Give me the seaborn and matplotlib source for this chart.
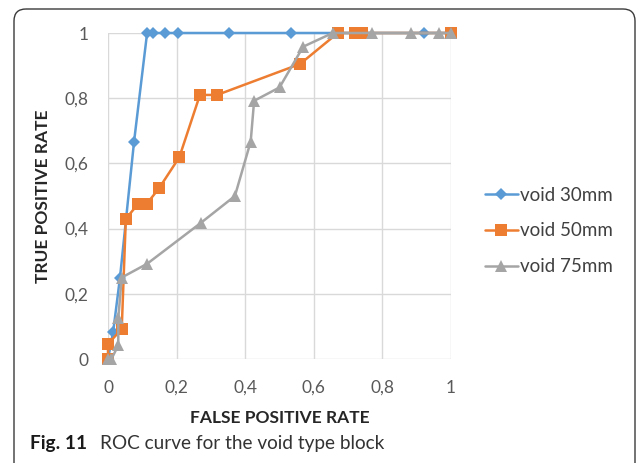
import matplotlib
matplotlib.use("Agg")
import matplotlib.pyplot as plt
from matplotlib.patches import FancyBboxPatch
import seaborn as sns
import pandas as pd

# ---- data ----
series_names = ["void 30mm", "void 50mm", "void 75mm"]
blue_x = [0, 0.015, 0.035, 0.076, 0.114, 0.131, 0.166, 0.204, 0.353, 0.534, 0.921, 1.0]
blue_y = [0, 0.083, 0.25, 0.667, 1, 1, 1, 1, 1, 1, 1, 1]
orange_x = [0, 0, 0.04, 0.052, 0.088, 0.113, 0.149, 0.208, 0.268, 0.318, 0.56, 0.67, 0.72, 0.74, 1.0]
orange_y = [0, 0.046, 0.092, 0.43, 0.476, 0.476, 0.524, 0.619, 0.81, 0.81, 0.905, 1, 1, 1, 1]
gray_x = [0, 0.01, 0.03, 0.03, 0.04, 0.114, 0.27, 0.37, 0.416, 0.426, 0.5, 0.569, 0.655, 0.77, 0.884, 0.965, 1.0]
gray_y = [0, 0, 0.042, 0.125, 0.25, 0.292, 0.417, 0.5, 0.667, 0.792, 0.833, 0.958, 1, 1, 1, 1, 1]
tick_values = [0, 0.2, 0.4, 0.6, 0.8, 1.0]
tick_labels = ["0", "0,2", "0,4", "0,6", "0,8", "1"]
x_title = "FALSE POSITIVE RATE"
y_title = "TRUE POSITIVE RATE"
caption_bold = "Fig. 11"
caption_text = "ROC curve for the void type block"

rows = []
for name, xs, ys in zip(series_names, [blue_x, orange_x, gray_x], [blue_y, orange_y, gray_y]):
    for i, (x, y) in enumerate(zip(xs, ys)):
        rows.append({"series": name, "order": i, "fpr": x, "tpr": y})
df = pd.DataFrame(rows)

sns.set_theme(style="white")
plt.rcParams['font.family'] = ['Lato', 'DejaVu Sans']

W, H = 637, 463
fig = plt.figure(figsize=(W / 100, H / 100), dpi=100)

# background frame
bg = fig.add_axes([0, 0, 1, 1], zorder=-5)
bg.set_xlim(0, W)
bg.set_ylim(H, 0)
bg.axis("off")
bg.add_patch(FancyBboxPatch((14, 9), 621, 475, boxstyle="round,pad=0,rounding_size=12",
                            fill=False, edgecolor="#3a3a3a", linewidth=1.0))

left, right = 108 / W, 451 / W
bottom, top = 1 - 359 / H, 1 - 33 / H
ax = fig.add_axes([left, bottom, right - left, top - bottom])

colors = {"void 30mm": "#5B9BD5", "void 50mm": "#ED7D31", "void 75mm": "#A5A5A5"}
markers = {"void 30mm": "D", "void 50mm": "s", "void 75mm": "^"}
sizes = {"void 30mm": 6.5, "void 50mm": 8.5, "void 75mm": 8.5}

for name in series_names:
    sub = df[df.series == name]
    sns.lineplot(data=sub, x="fpr", y="tpr", sort=False, estimator=None, ax=ax,
                 color=colors[name], marker=markers[name], markersize=sizes[name],
                 markeredgewidth=0, linewidth=1.8, label=name, clip_on=False)

ax.set_xlim(0, 1)
ax.set_ylim(0, 1)
ax.set_xticks(tick_values)
ax.set_xticklabels(tick_labels)
ax.set_yticks(tick_values)
ax.set_yticklabels(tick_labels)
ax.grid(True, color="#D9D9D9", linewidth=1.0)
ax.set_axisbelow(True)
for s in ax.spines.values():
    s.set_visible(False)
ax.tick_params(axis="both", length=0, labelsize=12.5, labelcolor="#595959")
ax.tick_params(axis="x", pad=15)
ax.tick_params(axis="y", pad=14)
ax.set_xlabel(x_title, fontsize=12.5, fontweight="bold", color="#262626", labelpad=10)
ax.set_ylabel(y_title, fontsize=12.5, fontweight="bold", color="#262626", labelpad=10)

ax.legend(loc="center left", bbox_to_anchor=(468 / W, 1 - 231 / H), bbox_transform=fig.transFigure,
          frameon=False, fontsize=13.5, handlelength=1.76, labelspacing=1.0, handletextpad=0.12,
          labelcolor="#404040")

fig.text(30 / W, 1 - 444 / H, caption_bold, fontsize=13.7, fontweight="bold", color="#1a1a1a",
         va="center", ha="left")
fig.text(100 / W, 1 - 444 / H, caption_text, fontsize=13.7, color="#333333", va="center", ha="left")

fig.savefig("out.png", dpi=100)
